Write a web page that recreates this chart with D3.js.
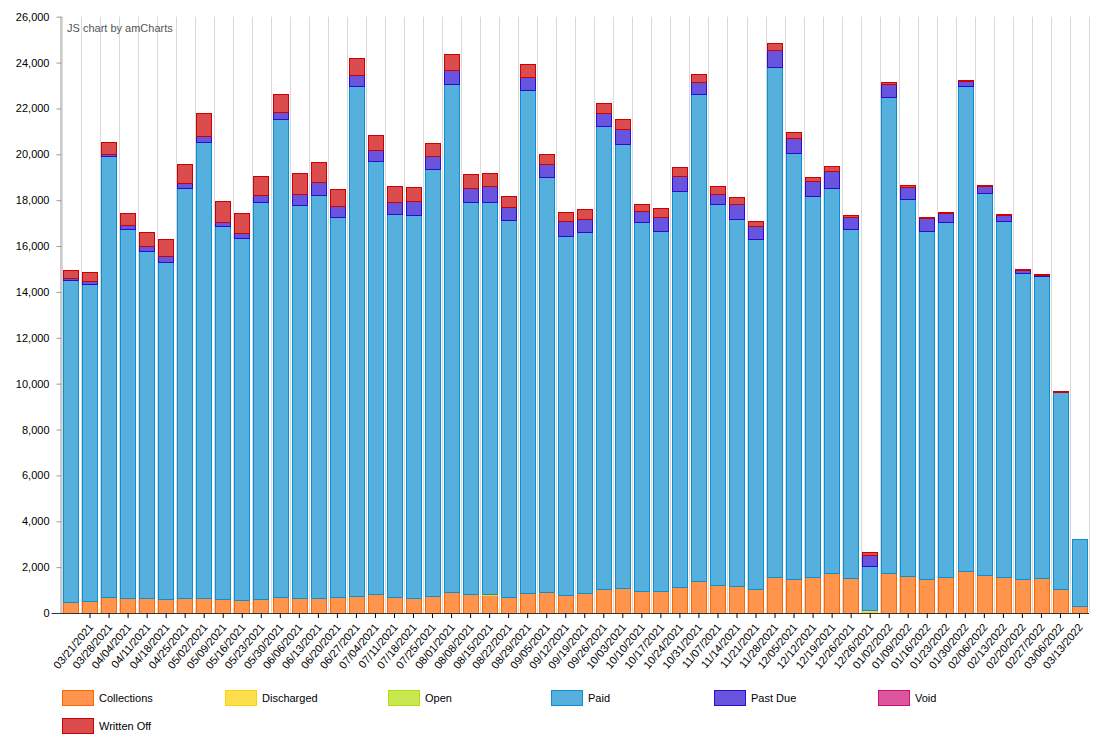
<!DOCTYPE html>
<html>
<head>
<meta charset="utf-8">
<script src="https://cdn.jsdelivr.net/npm/d3@7"></script>
<style>
  html, body { margin: 0; padding: 0; background: #fff; }
  svg { display: block; font-family: "Liberation Sans", Arial, sans-serif; }
</style>
</head>
<body>
<svg id="chart" width="1115" height="748"></svg>
<script>
// ---- DATA ----
// First weekly column carries no visible label in the reference (label hidden).
const categories = ["", "03/21/2021", "03/28/2021", "04/04/2021", "04/11/2021", "04/18/2021", "04/25/2021",
  "05/02/2021", "05/09/2021", "05/16/2021", "05/23/2021", "05/30/2021", "06/06/2021", "06/13/2021",
  "06/20/2021", "06/27/2021", "07/04/2021", "07/11/2021", "07/18/2021", "07/25/2021", "08/01/2021",
  "08/08/2021", "08/15/2021", "08/22/2021", "08/29/2021", "09/05/2021", "09/12/2021", "09/19/2021",
  "09/26/2021", "10/03/2021", "10/10/2021", "10/17/2021", "10/24/2021", "10/31/2021", "11/07/2021",
  "11/14/2021", "11/21/2021", "11/28/2021", "12/05/2021", "12/12/2021", "12/19/2021", "12/26/2021",
  "12/26/2021", "01/02/2022", "01/09/2022", "01/16/2022", "01/23/2022", "01/30/2022", "02/06/2022",
  "02/13/2022", "02/20/2022", "02/27/2022", "03/06/2022", "03/13/2022"];

const collections = [465, 508, 682, 653, 653, 595, 653, 653, 595, 566, 610, 682, 653, 653, 682, 726, 813, 682,
  653, 726, 900, 828, 784, 682, 857, 900, 770, 857, 1031, 1074, 944, 944, 1118, 1379, 1205, 1162, 1031,
  1554, 1467, 1554, 1728, 1510, 50, 1728, 1597, 1467, 1554, 1830, 1641, 1554, 1467, 1510, 1031, 290];

const discharged = [0, 0, 0, 0, 0, 0, 0, 0, 0, 0, 0, 0, 0, 0, 0, 0, 0, 0, 0, 0, 0, 0, 29, 0, 0, 0, 0, 0, 0, 0,
  0, 0, 0, 0, 0, 0, 0, 0, 0, 0, 0, 0, 80, 0, 0, 0, 0, 0, 0, 0, 0, 0, 0, 0];

const open = new Array(54).fill(0);

const paid = [14058, 13842, 19232, 16087, 15146, 14711, 17884, 19884, 16276, 15783, 17304, 20840, 17131,
  17565, 16580, 22245, 18898, 16710, 16696, 18637, 22144, 17086, 17101, 16450, 21926, 18101, 15681, 15753,
  20187, 19390, 16101, 15710, 17274, 21230, 16622, 15998, 15260, 22272, 18577, 16621, 16795, 15245, 1934,
  20751, 16433, 15187, 15491, 21141, 16664, 15517, 13361, 13173, 8624, 2940];

const pastDue = [87, 116, 116, 174, 202, 261, 203, 275, 174, 203, 290, 304, 492, 595, 464, 493, 493, 508, 594,
  551, 637, 609, 696, 565, 608, 580, 623, 565, 565, 624, 492, 608, 681, 551, 464, 653, 580, 725, 652, 652,
  768, 507, 466, 594, 536, 564, 376, 247, 333, 300, 145, 72, 0, 0];

const voidVals = new Array(54).fill(0);

const writtenOff = [348, 405, 492, 522, 609, 739, 826, 971, 913, 884, 840, 783, 899, 855, 768, 753, 623, 710,
  623, 565, 710, 608, 565, 478, 566, 420, 405, 435, 435, 434, 290, 391, 363, 362, 319, 319, 217, 318, 261,
  174, 188, 87, 118, 101, 87, 58, 58, 43, 20, 25, 30, 30, 25, 0];

const seriesNames = ["Collections", "Discharged", "Open", "Paid", "Past Due", "Void", "Written Off"];
const seriesColors = ["#FF6600", "#FCD202", "#B0DE09", "#0D8ECF", "#2A0CD0", "#CD0D74", "#CC0000"];
const yTicks = [0, 2000, 4000, 6000, 8000, 10000, 12000, 14000, 16000, 18000, 20000, 22000, 24000, 26000];

// ---- BUILD ----
const seriesArrays = [collections, discharged, open, paid, pastDue, voidVals, writtenOff];
const rows = categories.map((c, i) => {
  const r = { idx: i };
  seriesNames.forEach((n, k) => r[n] = seriesArrays[k][i]);
  return r;
});

const svg = d3.select("#chart");
const plot = { left: 61.5, right: 1089, top: 16.7, bottom: 613 };

const x = d3.scaleBand().domain(d3.range(categories.length))
  .range([plot.left, plot.right]).paddingInner(0.18).paddingOuter(0.09);
const y = d3.scaleLinear().domain([0, 26000]).range([plot.bottom, plot.top]);

// vertical grid at category boundaries
const step = x.step();
const bounds = d3.range(categories.length + 1).map(k => plot.left + k * step);
svg.append("g").selectAll("line").data(bounds).join("line")
  .attr("x1", d => Math.round(d) + 0.5).attr("x2", d => Math.round(d) + 0.5)
  .attr("y1", plot.top).attr("y2", plot.bottom)
  .attr("stroke", "#d9d9d9").attr("stroke-width", 1);

// stacked columns
const stack = d3.stack().keys(seriesNames);
const stacked = stack(rows);
const bw = Math.round(x.bandwidth()) - 1;
stacked.forEach((layer, k) => {
  svg.append("g").selectAll("rect")
    .data(layer.filter(d => d[1] - d[0] > 0))
    .join("rect")
    .attr("x", d => Math.round(x(d.data.idx)) + 0.5)
    .attr("width", bw)
    .attr("y", d => Math.round(y(d[1])) + 0.5)
    .attr("height", d => Math.max(0, Math.round(y(d[0])) - Math.round(y(d[1]))))
    .attr("fill", seriesColors[k]).attr("fill-opacity", 0.7)
    .attr("stroke", seriesColors[k]).attr("stroke-width", 1);
});

// y axis
const yAxis = d3.axisLeft(y).tickValues(yTicks).tickSize(5).tickPadding(7)
  .tickFormat(d3.format(","));
const gy = svg.append("g").attr("transform", `translate(${plot.left},0)`).call(yAxis);
gy.select(".domain").attr("stroke", "#999").attr("d", `M-0.5,${plot.top}V${plot.bottom}`);
gy.selectAll(".tick line").attr("stroke", "#999");
gy.selectAll(".tick text").attr("font-size", 11).attr("fill", "#000")
  .attr("font-family", "Liberation Sans, Arial, sans-serif");

// x axis
const xAxis = d3.axisBottom(x).tickValues(d3.range(1, categories.length)).tickSize(5)
  .tickFormat(i => categories[i]);
const gx = svg.append("g").attr("transform", `translate(0,${plot.bottom})`).call(xAxis);
gx.select(".domain").attr("stroke", "#333").attr("d", `M${plot.left - 10},0.5H${plot.right}`);
gx.selectAll(".tick line").attr("stroke", "#000");
gx.selectAll(".tick text")
  .attr("font-size", 11).attr("fill", "#000")
  .attr("font-family", "Liberation Sans, Arial, sans-serif")
  .attr("text-anchor", "end")
  .attr("y", 0).attr("dy", "0.35em")
  .attr("transform", "translate(1,12) rotate(-50)");

// credit text
svg.append("text").attr("x", 67).attr("y", 32)
  .attr("font-size", 11).attr("fill", "#555")
  .text("JS chart by amCharts");

// legend
const legend = svg.append("g");
seriesNames.forEach((n, k) => {
  const col = k % 6, row = Math.floor(k / 6);
  const lx = 61.5 + col * 163.2, ly = 690.5 + row * 28;
  legend.append("rect").attr("x", Math.round(lx) + 0.5).attr("y", ly)
    .attr("width", 31).attr("height", 15)
    .attr("fill", seriesColors[k]).attr("fill-opacity", 0.7)
    .attr("stroke", seriesColors[k]).attr("stroke-width", 1);
  legend.append("text").attr("x", Math.round(lx) + 37).attr("y", ly + 8).attr("dy", "0.35em")
    .attr("font-size", 11).attr("fill", "#000").text(n);
});
</script>
</body>
</html>
